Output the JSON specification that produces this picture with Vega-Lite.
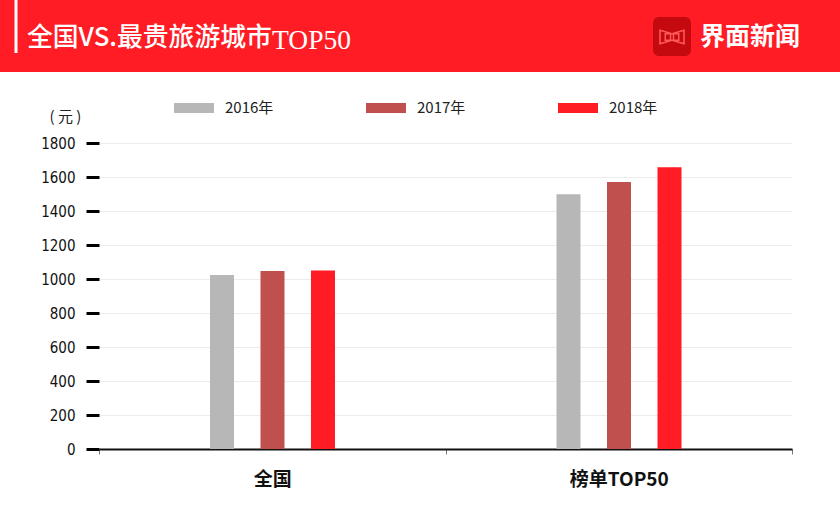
{
  "$schema": "https://vega.github.io/schema/vega-lite/v6.json",
  "width": 693,
  "height": 306,
  "autosize": {"type": "none"},
  "padding": {"left": 99, "top": 143, "right": 48, "bottom": 72},
  "background": "#ffffff",
  "config": {
    "view": {"stroke": null},
    "font": "Noto Sans CJK SC"
  },
  "layer": [
    {
      "data": {"values": [{"part": "header"}]},
      "mark": {"type": "rect", "fill": "#FF1C24"},
      "encoding": {
        "x": {"value": -99},
        "x2": {"value": 741},
        "y": {"value": -143},
        "y2": {"value": -71}
      }
    },
    {
      "data": {"values": [{"part": "bar"}]},
      "mark": {"type": "rule", "stroke": "#ffffff", "strokeWidth": 3},
      "encoding": {
        "x": {"value": -83},
        "y": {"value": -143},
        "y2": {"value": -90}
      }
    },
    {
      "data": {"values": [{"t": "全国VS.最贵旅游城市"}]},
      "mark": {"type": "text", "align": "left", "baseline": "middle", "fontSize": 25.8, "fontWeight": 500, "fill": "#ffffff", "font": "Noto Sans CJK SC"},
      "encoding": {
        "x": {"value": -72},
        "y": {"value": -105},
        "text": {"field": "t"}
      }
    },
    {
      "data": {"values": [{"t": "TOP50"}]},
      "mark": {"type": "text", "align": "left", "baseline": "alphabetic", "fontSize": 27.5, "fontWeight": "normal", "fill": "#ffffff", "font": "Liberation Serif"},
      "encoding": {
        "x": {"value": 173},
        "y": {"value": -94},
        "text": {"field": "t"}
      }
    },
    {
      "data": {"values": [{"part": "logo"}]},
      "mark": {"type": "rect", "fill": "#C40A0F", "cornerRadius": 6},
      "encoding": {
        "x": {"value": 554},
        "x2": {"value": 592},
        "y": {"value": -126},
        "y2": {"value": -87}
      }
    },
    {
      "data": {"values": [{"part": "icon"}]},
      "mark": {"type": "point", "shape": "M-0.8,-0.45 L-0.1,-0.25 L-0.1,0.25 L-0.8,0.45 Z M0.8,-0.45 L0.1,-0.25 L0.1,0.25 L0.8,0.45 Z M-0.45,-0.22 H0.45 V0.22 H-0.45 Z", "filled": false, "stroke": "#ff5a5a", "strokeWidth": 1.5, "size": 900, "opacity": 1},
      "encoding": {
        "x": {"value": 573},
        "y": {"value": -106}
      }
    },
    {
      "data": {"values": [{"t": "界面新闻"}]},
      "mark": {"type": "text", "align": "left", "baseline": "middle", "fontSize": 25, "fontWeight": "bold", "fill": "#ffffff", "font": "Noto Sans CJK SC"},
      "encoding": {
        "x": {"value": 601},
        "y": {"value": -106},
        "text": {"field": "t"}
      }
    },
    {
      "data": {
        "values": [
          {"group": "全国", "year": "2016年", "price": 1023},
          {"group": "全国", "year": "2017年", "price": 1047},
          {"group": "全国", "year": "2018年", "price": 1050},
          {"group": "榜单TOP50", "year": "2016年", "price": 1498},
          {"group": "榜单TOP50", "year": "2017年", "price": 1570},
          {"group": "榜单TOP50", "year": "2018年", "price": 1657}
        ]
      },
      "mark": {"type": "bar"},
      "encoding": {
        "x": {
          "field": "group",
          "type": "nominal",
          "sort": ["全国", "榜单TOP50"],
          "scale": {"paddingInner": 0, "paddingOuter": 0},
          "axis": {
            "title": null,
            "labelAngle": 0,
            "labelFontSize": 19,
            "labelFontWeight": "bold",
            "labelColor": "#111111",
            "labelPadding": 16,
            "domainColor": "#111111",
            "domainWidth": 2,
            "tickBand": "extent",
            "tickColor": "#777777",
            "tickSize": 5,
            "tickWidth": 1
          }
        },
        "xOffset": {
          "field": "year",
          "type": "nominal",
          "sort": ["2016年", "2017年", "2018年"],
          "scale": {"range": [111, 236], "paddingInner": 0.525, "paddingOuter": 0}
        },
        "y": {
          "field": "price",
          "type": "quantitative",
          "scale": {"domain": [0, 1800], "nice": false},
          "axis": {
            "title": "(  元  )",
            "titleAngle": 0,
            "titleAlign": "center",
            "titleBaseline": "middle",
            "titleX": -34,
            "titleY": -27,
            "titleFontSize": 15,
            "titleFontWeight": "normal",
            "titleColor": "#222222",
            "values": [0, 200, 400, 600, 800, 1000, 1200, 1400, 1600, 1800],
            "format": "d",
            "labelFont": "DejaVu Sans Condensed",
            "labelFontSize": 15,
            "labelColor": "#111111",
            "labelPadding": 11,
            "domain": false,
            "tickColor": "#000000",
            "tickWidth": 3,
            "tickSize": 13,
            "gridColor": "#ececec",
            "gridWidth": 1
          }
        },
        "color": {
          "field": "year",
          "type": "nominal",
          "sort": ["2016年", "2017年", "2018年"],
          "scale": {"range": ["#B7B7B7", "#C0504D", "#FF1C24"]},
          "legend": {
            "title": null,
            "orient": "none",
            "direction": "horizontal",
            "columns": 3,
            "legendX": 85,
            "legendY": -45,
            "padding": 0,
            "symbolType": "M-2,-0.5H2V0.5H-2Z",
            "symbolSize": 400,
            "symbolStrokeWidth": 0,
            "labelOffset": 21,
            "labelFontSize": 15,
            "labelColor": "#222222",
            "columnPadding": 92
          }
        }
      }
    }
  ]
}
